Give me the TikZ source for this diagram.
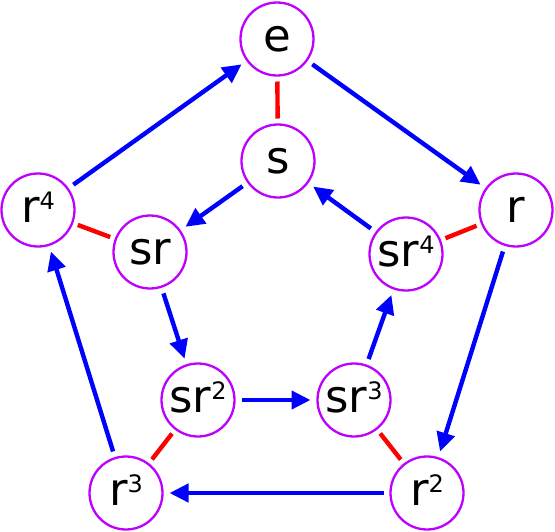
\documentclass[tikz,border=0pt]{standalone}
\usepackage{fontspec}
\setmainfont{DejaVu Sans}
\usetikzlibrary{arrows.meta}
\definecolor{nodepurple}{RGB}{190,0,255}
\definecolor{arrowblue}{RGB}{0,0,255}
\definecolor{edgered}{RGB}{255,0,0}
\newcommand{\sps}[1]{\raisebox{13pt}{\fontsize{24}{24}\selectfont #1}}
\begin{document}
\begin{tikzpicture}[x=1pt,y=-1pt,
  elem/.style={circle, draw=nodepurple, line width=2.3pt, minimum size=73pt, inner sep=0pt, outer sep=0pt,
    font=\fontsize{45}{45}\selectfont, text height=24.5pt, text depth=0pt},
  cayley/.style={draw=arrowblue, line width=4.4pt, -{Triangle[length=19pt,width=18pt]}, shorten <=7pt, shorten >=7pt},
  refl/.style={draw=edgered, line width=4.4pt, shorten <=6pt, shorten >=6pt}]
\useasboundingbox (0,0) rectangle (555,531);
\node[elem] (e)   at (277,39)  {e};
\node[elem] (s)   at (278,161) {s};
\node[elem] (r4)  at (38,210)  {r\sps{4}};
\node[elem] (r)   at (516,210) {r};
\node[elem] (sr)  at (150,252) {sr};
\node[elem] (sr4) at (406,254) {sr\sps{4}};
\node[elem] (sr2) at (198,400) {sr\sps{2}};
\node[elem] (sr3) at (354,400) {sr\sps{3}};
\node[elem] (r3)  at (126,493) {r\sps{3}};
\node[elem] (r2)  at (427,493) {r\sps{2}};
% rotations (outer)
\draw[cayley] (e) -- (r);
\draw[cayley] (r) -- (r2);
\draw[cayley] (r2) -- (r3);
\draw[cayley] (r3) -- (r4);
\draw[cayley] (r4) -- (e);
% rotations (inner)
\draw[cayley] (s) -- (sr);
\draw[cayley] (sr) -- (sr2);
\draw[cayley] (sr2) -- (sr3);
\draw[cayley] (sr3) -- (sr4);
\draw[cayley] (sr4) -- (s);
% reflections
\draw[refl] (e) -- (s);
\draw[refl] (r4) -- (sr);
\draw[refl] (r) -- (sr4);
\draw[refl] (r3) -- (sr2);
\draw[refl] (r2) -- (sr3);
\end{tikzpicture}
\end{document}
